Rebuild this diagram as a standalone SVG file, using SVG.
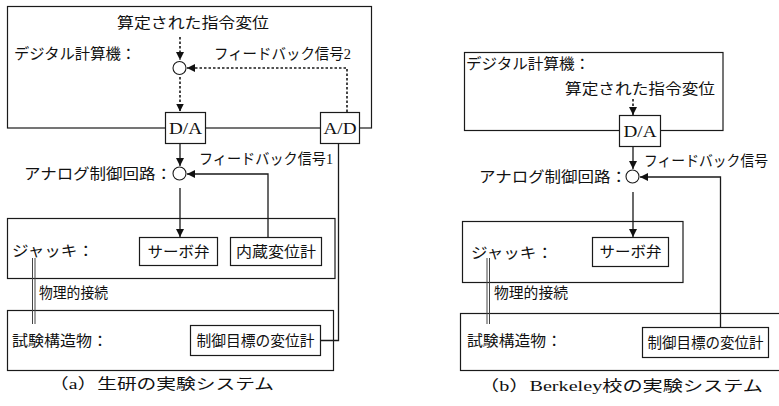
<svg xmlns="http://www.w3.org/2000/svg" width="779" height="406" viewBox="0 0 779 406">
<defs>
<marker id="ah" markerUnits="userSpaceOnUse" markerWidth="9" markerHeight="9" refX="8" refY="4" orient="auto">
<path d="M0,0 L8,4 L0,8 z" fill="#111"/>
</marker>
<style>
.bx{fill:none;stroke:#1a1a1a;stroke-width:1.2}
.wb{fill:#fff;stroke:#1a1a1a;stroke-width:1.2}
.ln{fill:none;stroke:#1a1a1a;stroke-width:1.3}
.dt{fill:none;stroke:#1a1a1a;stroke-width:1.6;stroke-dasharray:2.5 2}
.ci{fill:#fff;stroke:#1a1a1a;stroke-width:1.1}
.dbl{stroke:#444;stroke-width:1}
text{font-family:"Liberation Serif","Noto Sans CJK JP",serif;font-size:15px;fill:#111}
.c{text-anchor:middle}
.lat{font-family:"Liberation Serif",serif;font-size:17px}
</style>
</defs>
<rect width="779" height="406" fill="#fff"/>

<!-- ===== (a) ===== -->
<g id="a-computer">
<rect class="bx" x="7.5" y="6.5" width="364" height="121.5"/>
<text x="117" y="27.5" textLength="152" lengthAdjust="spacingAndGlyphs">算定された指令変位</text>
<text x="14" y="58.5" textLength="122" lengthAdjust="spacingAndGlyphs">デジタル計算機：</text>
</g>
<g id="a-sum1"><circle class="ci" cx="179.5" cy="68" r="6.5"/></g>
<g id="a-da">
<rect class="wb" x="165.5" y="112.5" width="40" height="31"/>
<text class="lat c" x="185.5" y="134" textLength="33" lengthAdjust="spacingAndGlyphs">D/A</text>
</g>
<g id="a-ad">
<rect class="wb" x="320.5" y="112.5" width="39" height="31"/>
<text class="lat c" x="340" y="134" textLength="33" lengthAdjust="spacingAndGlyphs">A/D</text>
</g>
<g id="a-sum2">
<circle class="ci" cx="179.5" cy="173.5" r="6.5"/>
<text x="24" y="178.5" textLength="148" lengthAdjust="spacingAndGlyphs">アナログ制御回路：</text>
</g>
<g id="a-jack">
<rect class="bx" x="7.5" y="218.5" width="327.5" height="60"/>
<text x="12" y="255.5" textLength="82" lengthAdjust="spacingAndGlyphs">ジャッキ：</text>
</g>
<g id="a-servo">
<rect class="wb" x="139.5" y="237.5" width="78" height="28"/>
<text class="c" x="178.5" y="256.5" textLength="62" lengthAdjust="spacingAndGlyphs">サーボ弁</text>
</g>
<g id="a-internal">
<rect class="wb" x="230.5" y="237.5" width="91" height="28"/>
<text class="c" x="276" y="256.5" textLength="80" lengthAdjust="spacingAndGlyphs">内蔵変位計</text>
</g>
<g id="a-structure">
<rect class="bx" x="7.5" y="310.5" width="326" height="60"/>
<text x="12" y="345.5" textLength="96" lengthAdjust="spacingAndGlyphs">試験構造物：</text>
</g>
<g id="a-target">
<rect class="wb" x="190.5" y="325.5" width="130" height="30"/>
<text class="c" x="255.5" y="346" textLength="118" lengthAdjust="spacingAndGlyphs">制御目標の変位計</text>
</g>

<!-- ===== (b) ===== -->
<g id="b-computer">
<rect class="bx" x="464.5" y="52.5" width="258.5" height="78"/>
<text x="466" y="68.5" textLength="124" lengthAdjust="spacingAndGlyphs">デジタル計算機：</text>
<text x="565" y="93.5" textLength="150" lengthAdjust="spacingAndGlyphs">算定された指令変位</text>
</g>
<g id="b-da">
<rect class="wb" x="619.5" y="115.5" width="41" height="31"/>
<text class="lat c" x="640" y="137" textLength="33" lengthAdjust="spacingAndGlyphs">D/A</text>
</g>
<g id="b-sum">
<circle class="ci" cx="632.5" cy="176.5" r="6.5"/>
<text x="479" y="181.5" textLength="148" lengthAdjust="spacingAndGlyphs">アナログ制御回路：</text>
</g>
<g id="b-jack">
<rect class="bx" x="462.5" y="221.5" width="220.5" height="61"/>
<text x="471" y="257.5" textLength="82" lengthAdjust="spacingAndGlyphs">ジャッキ：</text>
</g>
<g id="b-servo">
<rect class="wb" x="592.5" y="237.5" width="76" height="29"/>
<text class="c" x="630.5" y="257" textLength="62" lengthAdjust="spacingAndGlyphs">サーボ弁</text>
</g>
<g id="b-structure">
<rect class="bx" x="460.5" y="313.5" width="330" height="57"/>
<text x="467" y="345.5" textLength="95" lengthAdjust="spacingAndGlyphs">試験構造物：</text>
</g>
<g id="b-target">
<rect class="wb" x="642.5" y="327.5" width="126" height="30"/>
<text class="c" x="705.5" y="348" textLength="116" lengthAdjust="spacingAndGlyphs">制御目標の変位計</text>
</g>

<!-- ===== connectors ===== -->
<g id="connectors">
<path class="dt" d="M180,37 V60" marker-end="url(#ah)"/>
<path class="dt" d="M180,77 V111.5" marker-end="url(#ah)"/>
<path class="dt" d="M347,112 V68 H187" marker-end="url(#ah)"/>
<path class="ln" d="M180,144 V166" marker-end="url(#ah)"/>
<path class="ln" d="M268,237 V174 H187" marker-end="url(#ah)"/>
<path class="ln" d="M180,188 V237" marker-end="url(#ah)"/>
<path class="ln" d="M338.5,144 V340.5 H321"/>
<line class="dbl" x1="32.5" y1="258" x2="32.5" y2="324"/>
<line class="dbl" x1="35" y1="258" x2="35" y2="324"/>

<path class="dt" d="M633,99 V115" marker-end="url(#ah)"/>
<path class="ln" d="M633,147 V169" marker-end="url(#ah)"/>
<path class="ln" d="M720.5,327 V177 H640" marker-end="url(#ah)"/>
<path class="ln" d="M633,192 V237" marker-end="url(#ah)"/>
<line class="dbl" x1="487" y1="258" x2="487" y2="324"/>
<line class="dbl" x1="489.5" y1="258" x2="489.5" y2="324"/>
</g>

<g id="labels">
<text x="214" y="58.5" textLength="137" lengthAdjust="spacingAndGlyphs">フィードバック信号2</text>
<text x="199" y="163.5" textLength="134" lengthAdjust="spacingAndGlyphs">フィードバック信号1</text>
<text x="39" y="298" textLength="69" lengthAdjust="spacingAndGlyphs">物理的接続</text>
<text x="644" y="165.5" textLength="124" lengthAdjust="spacingAndGlyphs">フィードバック信号</text>
<text x="494" y="298" textLength="74" lengthAdjust="spacingAndGlyphs">物理的接続</text>
<text x="49" y="388.5" textLength="225" lengthAdjust="spacingAndGlyphs">（a）生研の実験システム</text>
<text x="479" y="390.5" textLength="284" lengthAdjust="spacingAndGlyphs">（b）Berkeley校の実験システム</text>
</g>
</svg>
